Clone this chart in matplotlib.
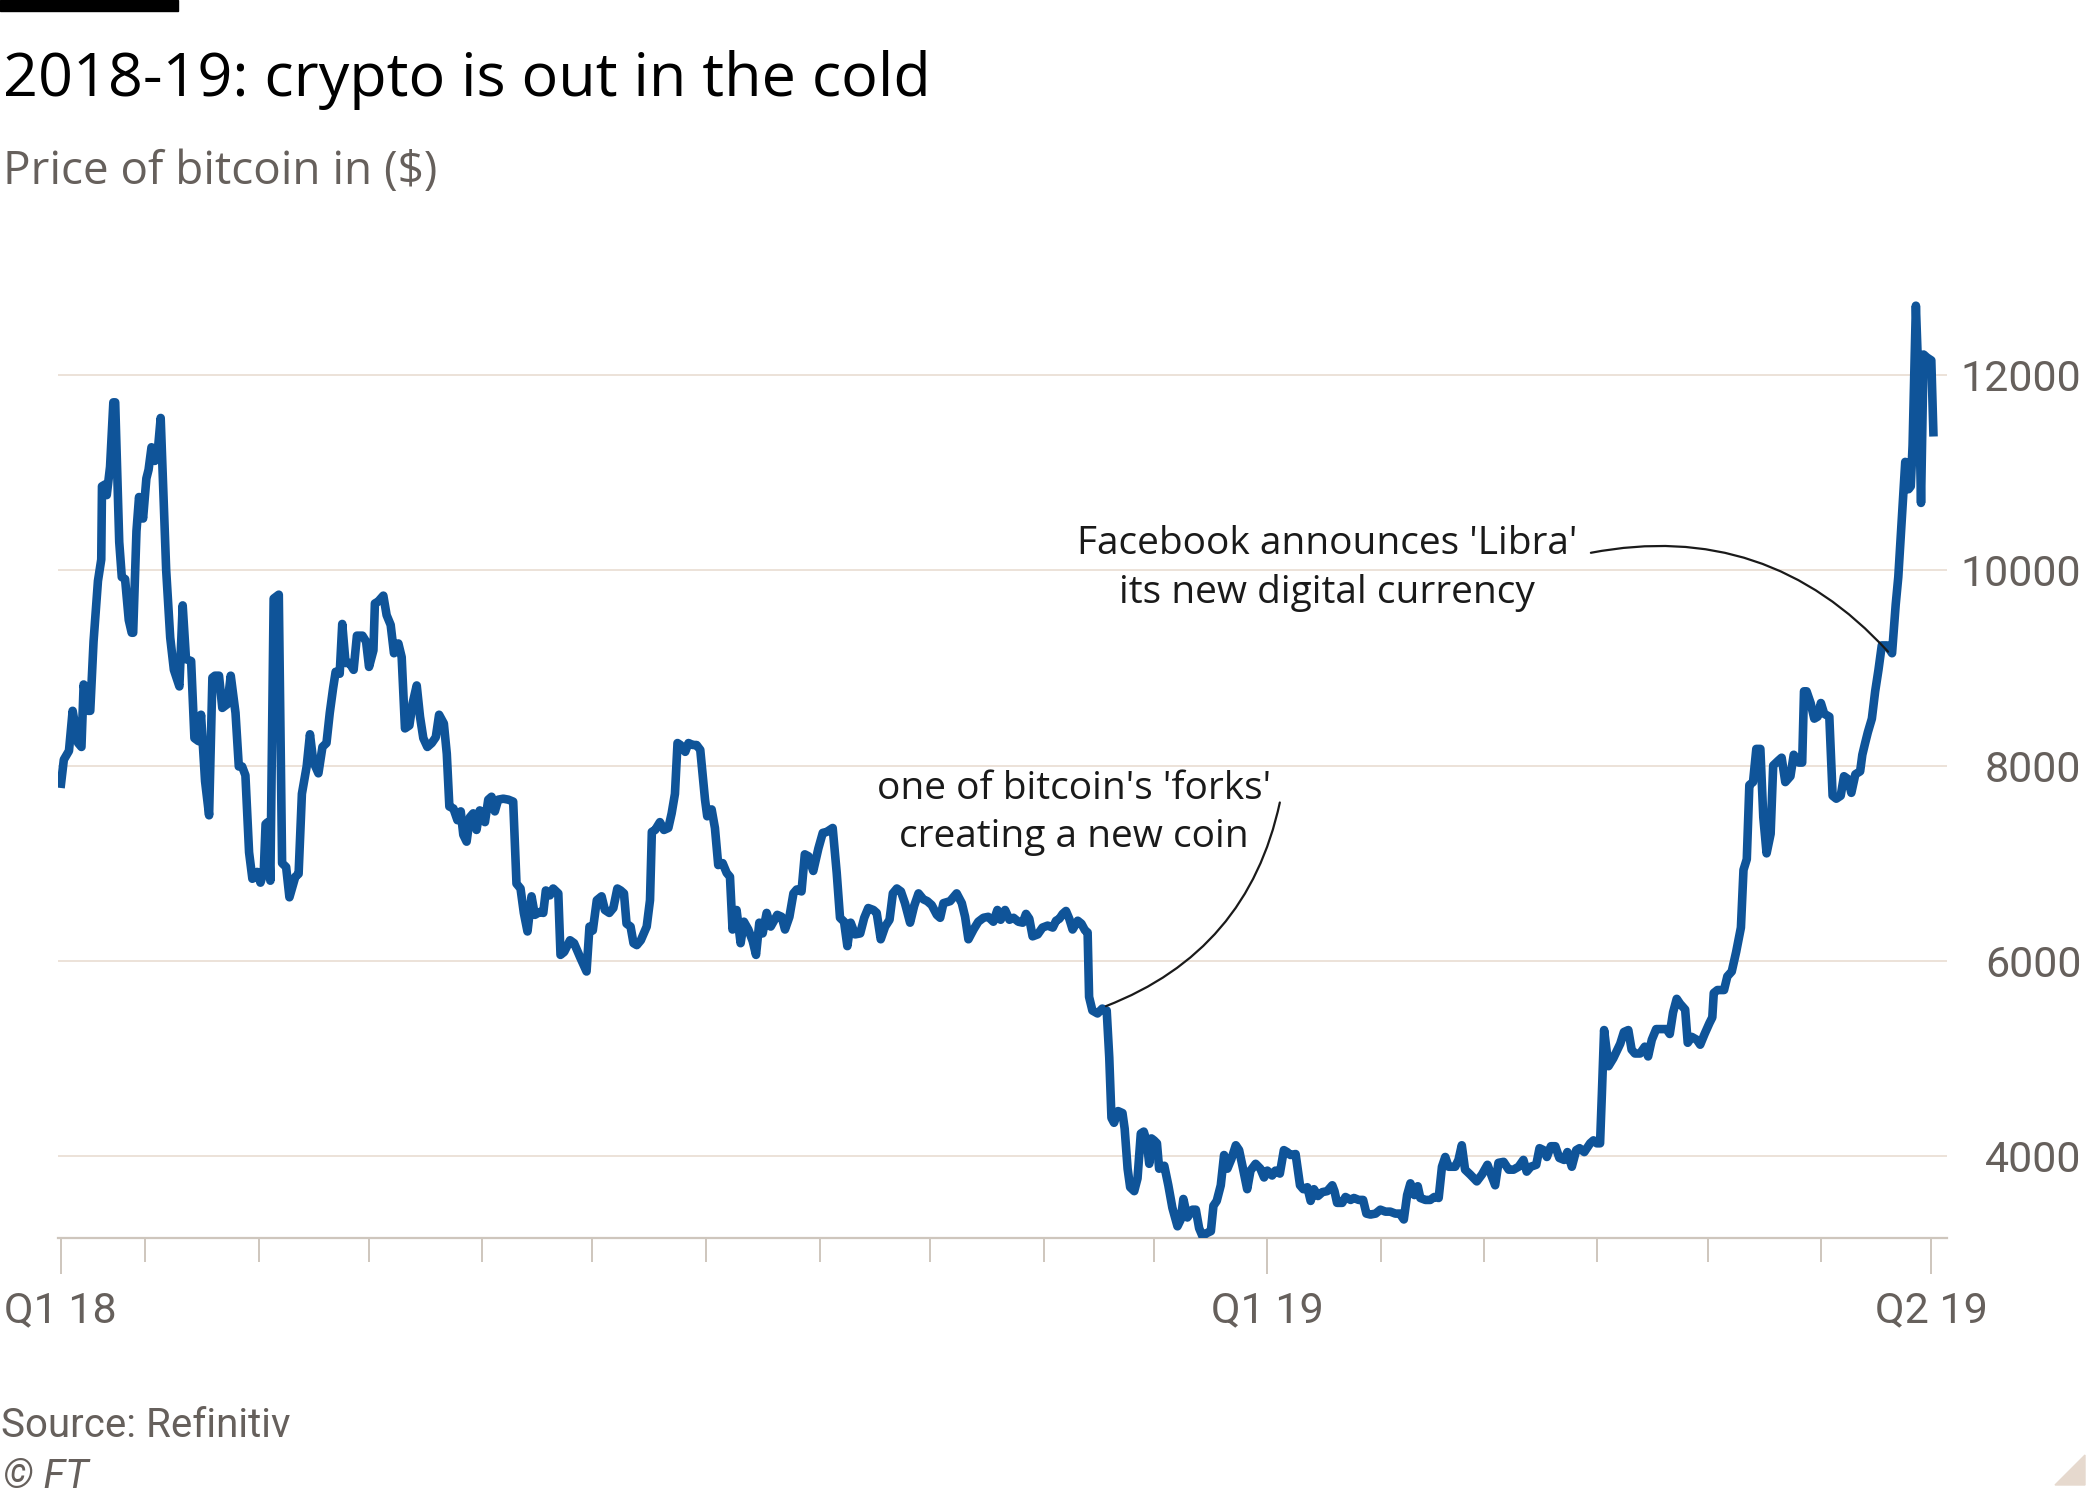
import matplotlib
matplotlib.use("Agg")
import matplotlib.pyplot as plt
import matplotlib.dates as mdates
from matplotlib.patches import Rectangle, Polygon
import pandas as pd

# ---------------- data ----------------
START = "2018-02-06"   # first observation; DAYS are offsets from this date

DAYS = [
    0, 0.9, 2.3, 3.3, 4.8, 5.7, 6.3, 7.5, 8.1, 9.0, 10.2, 11.1, 11.3, 12.2, 12.6, 13.5,
    14.4, 14.9, 16.0, 16.7, 17.6, 18.6, 19.4, 19.8, 20.7, 21.4, 22.5, 23.4, 24.0, 24.8,
    25.7, 26.6, 27.3, 28.8, 29.9, 30.9, 32.4, 33.3, 34.2, 35.6, 36.5, 37.6, 38.3, 39.4,
    40.5, 41.4, 42.1, 43.2, 44.1, 45.5, 46.4, 47.7, 48.6, 49.5, 50.4, 51.4, 52.3, 53.6,
    54.5, 55.4, 55.9, 56.5, 57.2, 58.1, 59.5, 60.4, 61.5, 62.4, 64.0, 64.9, 65.8, 67.1,
    68.0, 68.9, 70.3, 71.4, 72.5, 73.4, 74.3, 75.0, 76.1, 76.8, 77.7, 78.8, 79.9, 80.8,
    82.3, 83.3, 84.1,
    85.3, 85.7, 86.6, 88.0, 88.9, 90.0, 90.9, 92.1, 93.0, 93.9, 95.1, 96.0, 97.1, 98.0,
    98.9, 100.0, 101.2, 102.3, 103.2, 104.5, 105.3, 106.0, 107.1, 108.2, 109.1, 109.8,
    110.7, 111.6, 112.5, 113.4, 114.3, 115.7, 116.6, 117.5, 118.4, 119.3, 120.7, 122.1,
    123.4, 124.3, 125.4, 126.3, 127.3, 128.4, 129.3, 130.7, 131.6, 132.3, 133.4, 134.3,
    135.7, 136.3, 137.3, 138.9, 140.0, 141.6, 143.4, 144.2, 145.1, 146.2, 147.5, 148.4,
    149.6, 150.7, 151.8, 152.7, 153.6, 154.3, 155.4, 156.2, 157.1, 158.2, 159.8, 160.7,
    161.2, 162.1, 163.4, 164.5, 165.7, 166.6, 167.5, 168.2, 169.0, 170.3, 171.2, 172.4,
    173.4, 174.4,
    175.7, 176.3, 177.5, 178.4, 179.3, 180.5, 181.6, 182.5, 183.2, 184.3, 185.4, 186.3,
    187.5, 188.7, 189.6, 190.5, 191.4, 192.5, 193.6, 195.4, 196.6, 197.5, 198.7, 199.8,
    200.7, 202.0, 202.9, 203.9, 205.2, 206.6, 207.8, 208.9, 210.5, 211.6, 212.5, 213.6,
    214.5, 215.4, 216.6, 218.0, 219.1, 220.2, 221.6, 222.5, 223.6, 224.8, 226.0, 226.9,
    228.0, 229.1, 230.2, 231.6, 232.7, 233.9, 235.2, 236.3, 237.5, 238.9, 239.8, 240.7,
    242.5, 244.3, 245.7, 246.6, 247.5, 248.9, 250.2, 251.6, 252.9, 254.3, 255.4, 256.3,
    257.5, 258.7, 259.8, 261.1,
    262.3, 263.2, 264.1, 265.0, 266.4, 267.7, 269.1, 270.5, 271.4, 272.3, 273.2, 274.1,
    275.0, 275.9, 277.3, 278.3, 279.3, 280.0, 280.4, 281.3, 282.7, 284.0, 285.2, 285.9,
    286.5, 287.2, 288.3, 289.5, 290.1, 290.9, 291.6, 292.7, 293.6, 294.5, 295.3, 296.1,
    296.8, 297.4, 298.1, 298.9, 299.5, 300.9, 302.0, 303.1, 304.5, 305.4, 306.1, 307.2,
    308.6, 309.5, 310.4, 311.3, 312.5, 313.6, 314.3, 315.2, 316.3, 317.2, 318.1, 319.2,
    320.4, 321.3, 322.2, 323.5, 324.4, 325.8, 327.1, 328.1, 329.0, 330.3, 331.2, 332.4,
    333.5, 334.4, 335.3, 336.7, 337.9, 338.8, 339.9, 340.8, 341.7, 342.8, 344.0,
    345.3, 346.7, 347.3, 348.0, 349.4, 350.3, 351.7, 352.6, 353.9, 355.1, 356.0, 357.1,
    358.5, 359.8, 361.2, 362.5, 363.9, 365.1, 366.2, 367.1, 368.0, 369.1, 370.0, 370.7,
    372.1, 373.4, 374.5, 375.7, 376.6, 377.5, 378.4, 380.2, 381.1, 382.0, 382.9, 384.3,
    386.1, 387.5, 389.0, 390.2, 391.1, 392.0, 393.4, 394.8, 396.1, 397.5, 398.8, 399.7,
    400.8, 402.3, 403.2, 404.3, 405.2, 406.3, 407.5, 408.6, 409.9, 410.8, 412.0, 413.2,
    414.1, 415.4, 417.0, 417.9, 418.8, 419.7, 420.2, 420.8, 422.0, 423.3, 425.2, 426.2,
    427.4, 428.3, 429.2, 430.6, 431.9, 432.8, 433.8,
    435.0, 436.4, 437.8, 438.7, 439.6, 440.6, 441.5, 442.9, 443.6, 444.7, 446.1, 447.0,
    448.2, 449.5, 450.3, 450.7, 451.7, 453.5, 454.4, 455.6, 456.8, 458.1, 458.8, 459.7,
    460.4, 461.4, 462.3, 463.4, 464.2, 465.1, 466.2, 466.9, 468.3, 469.2, 470.2, 471.6,
    472.5, 473.9, 474.8, 475.3, 476.0, 477.1, 478.1, 479.0, 479.9, 480.8, 482.2, 483.1,
    484.1, 485.3, 486.2, 487.3, 488.2, 489.3, 490.6, 491.2, 491.9, 492.7, 493.8, 494.7,
    495.6, 496.5, 497.9, 499.3, 500.3, 501.0, 502.1, 502.9, 503.8, 504.4, 504.9, 505.8,
    506.6, 507.2, 507.9, 508.8, 510.0, 510.6,
]

PRICE = [
    7770, 8060, 8150, 8560, 8230, 8190, 8830, 8560, 8560, 9270, 9890, 10110, 10860, 10880, 10770, 11060,
    11720, 11720, 10290, 9930, 9910, 9490, 9360, 9360, 10400, 10750, 10530, 10940, 11030, 11260,
    11120, 11260, 11560, 10000, 9310, 8980, 8810, 9640, 9090, 9070, 8280, 8250, 8520, 7840,
    7490, 8900, 8920, 8920, 8590, 8630, 8920, 8540, 7990, 7990, 7900, 7110, 6840, 6910,
    6800, 6910, 7400, 7420, 6820, 9710, 9750, 7000, 6960, 6650, 6860, 6890, 7710, 7990,
    8320, 8040, 7920, 8190, 8230, 8540, 8790, 8960, 8940, 9450, 9050, 9050, 8980, 9330,
    9330, 9270, 9010,
    9180, 9660, 9680, 9740, 9540, 9440, 9150, 9250, 9110, 8380, 8410, 8640, 8820, 8500,
    8280, 8190, 8230, 8290, 8520, 8430, 8120, 7580, 7560, 7440, 7530, 7290,
    7220, 7470, 7510, 7340, 7540, 7420, 7650, 7680, 7530, 7650, 7660, 7650,
    7630, 6790, 6740, 6490, 6300, 6660, 6470, 6500, 6490, 6720, 6670, 6740,
    6690, 6060, 6090, 6210, 6180, 6040, 5890, 6350, 6310, 6620, 6660, 6520,
    6490, 6540, 6740, 6720, 6690, 6380, 6350, 6180, 6160, 6210, 6350, 6620,
    7320, 7340, 7420, 7340, 7360, 7510, 7710, 8230, 8210, 8140, 8230, 8210,
    8210, 8160,
    7650, 7480, 7550, 7360, 6980, 7000, 6900, 6860, 6320, 6520, 6180, 6400,
    6320, 6200, 6060, 6390, 6280, 6490, 6350, 6470, 6450, 6320, 6450, 6690,
    6730, 6710, 7090, 7070, 6920, 7150, 7310, 7320, 7360, 6900, 6440, 6400,
    6150, 6390, 6270, 6280, 6440, 6540, 6520, 6490, 6220, 6350, 6420, 6690,
    6740, 6710, 6590, 6390, 6560, 6690, 6630, 6610, 6570, 6470, 6440, 6590,
    6610, 6690, 6590, 6450, 6220, 6320, 6400, 6440, 6450, 6400, 6520, 6420,
    6520, 6420, 6440, 6400,
    6390, 6480, 6430, 6250, 6270, 6340, 6360, 6340, 6410, 6430, 6480, 6510,
    6430, 6320, 6410, 6380, 6310, 6290, 5630, 5490, 5460, 5510, 5490, 5010,
    4390, 4340, 4460, 4440, 4280, 3870, 3680, 3640, 3770, 4230, 4250, 4150,
    3920, 4180, 4160, 4130, 3870, 3900, 3700, 3470, 3280, 3350, 3560, 3370,
    3450, 3450, 3260, 3180, 3210, 3230, 3490, 3540, 3700, 4010, 3870, 3970,
    4110, 4060, 3900, 3660, 3850, 3920, 3870, 3780, 3850, 3800, 3850, 3820,
    4060, 4040, 4010, 4020, 3700, 3660, 3680, 3540, 3660, 3590, 3630,
    3640, 3700, 3640, 3520, 3520, 3580, 3550, 3570, 3550, 3550, 3410, 3400,
    3410, 3450, 3430, 3430, 3410, 3410, 3350, 3600, 3720, 3600, 3690, 3570,
    3550, 3550, 3580, 3570, 3890, 3990, 3890, 3890, 3960, 4110, 3860, 3810,
    3740, 3810, 3910, 3790, 3700, 3930, 3940, 3860, 3860, 3890, 3960, 3840,
    3890, 3910, 4080, 4060, 3990, 4100, 4100, 3980, 3960, 4040, 3890, 4060,
    4080, 4040, 4130, 4160, 4130, 4130, 4640, 5290, 4920, 5000, 5150, 5270,
    5290, 5090, 5050, 5050, 5120, 5020, 5190,
    5300, 5300, 5300, 5250, 5470, 5610, 5560, 5500, 5160, 5220, 5190, 5140,
    5250, 5360, 5420, 5670, 5700, 5700, 5840, 5890, 6090, 6340, 6930, 7040,
    7800, 7830, 8170, 8170, 7470, 7100, 7300, 8000, 8050, 8080, 7830, 7890,
    8110, 8030, 8030, 8760, 8760, 8640, 8480, 8500, 8640, 8530, 8500, 7690,
    7660, 7690, 7890, 7860, 7720, 7910, 7940, 8110, 8220, 8340, 8480, 8760,
    8980, 9230, 9230, 9150, 9650, 9930, 10610, 11110, 10830, 10860, 11280, 12710,
    11840, 10690, 12210, 12180, 12150, 11370,
]

Y_TICKS = [4000, 6000, 8000, 10000, 12000]
Y_TICK_LABELS = ["4000", "6000", "8000", "10000", "12000"]

X_TICK_DATES = [
    "2018-02-06", "2018-03-01", "2018-04-01", "2018-05-01", "2018-06-01", "2018-07-01",
    "2018-08-01", "2018-09-01", "2018-10-01", "2018-11-01", "2018-12-01", "2019-01-01",
    "2019-02-01", "2019-03-01", "2019-04-01", "2019-05-01", "2019-06-01", "2019-07-01",
]
X_LABELLED = {"2018-02-06": "Q1 18", "2019-01-01": "Q1 19", "2019-07-01": "Q2 19"}

TITLE = "2018-19: crypto is out in the cold"
SUBTITLE = "Price of bitcoin in ($)"
SOURCE = "Source: Refinitiv"
NOTE_FORK = ["one of bitcoin's 'forks'", "creating a new coin"]
NOTE_LIBRA = ["Facebook announces 'Libra'", "its new digital currency"]

# ---------------- style ----------------
BLUE = "#0f5499"
GRID = "#eadfd6"
AXIS = "#cec6bd"
GREY = "#66605c"
INK = "#1a1a1a"
W, H = 2100, 1500

start = pd.Timestamp(START)
dates = start + pd.to_timedelta(DAYS, unit="D")


def d(day):
    return mdates.date2num(start + pd.Timedelta(days=day))


fig = plt.figure(figsize=(W / 100, H / 100), dpi=100, facecolor="white")
ax = fig.add_axes([57.6 / W, 1 - 1238 / H, (1946.7 - 57.6) / W, (1238 - 277) / H])
ax.set_facecolor("white")

ax.plot(dates, PRICE, color=BLUE, lw=6.2, solid_joinstyle="round",
        solid_capstyle="butt", zorder=3)

ax.set_xlim(d(-0.8), d(514.2))
ax.set_ylim(3160, 13004)

for s in ["top", "left", "right"]:
    ax.spines[s].set_visible(False)
ax.spines["bottom"].set_color(AXIS)
ax.spines["bottom"].set_linewidth(1.6)

# y axis on the right, right-aligned labels
ax.yaxis.tick_right()
ax.set_yticks(Y_TICKS)
ax.set_yticklabels(Y_TICK_LABELS)
ax.tick_params(axis="y", length=0, pad=97, labelsize=31, labelcolor=GREY)
for t in ax.get_yticklabels():
    t.set_horizontalalignment("right")
    t.set_fontfamily(["Roboto", "DejaVu Sans"])
ax.grid(axis="y", color=GRID, lw=1.3, zorder=0)
ax.grid(axis="x", visible=False)

# x ticks: labelled (long) and monthly (short)
major = [mdates.date2num(pd.Timestamp(s)) for s in X_TICK_DATES if s in X_LABELLED]
minor = [mdates.date2num(pd.Timestamp(s)) for s in X_TICK_DATES if s not in X_LABELLED]
ax.set_xticks(major)
ax.set_xticklabels([X_LABELLED[s] for s in X_TICK_DATES if s in X_LABELLED])
ax.set_xticks(minor, minor=True)
ax.tick_params(axis="x", which="major", length=26, width=1.4, color=AXIS,
               labelsize=31, labelcolor=GREY, pad=12)
ax.tick_params(axis="x", which="minor", length=17, width=1.4, color=AXIS)
for t in ax.get_xticklabels():
    t.set_fontfamily(["Roboto", "DejaVu Sans"])

# annotations
ann_font = dict(fontsize=28, color=INK, family=["Open Sans", "DejaVu Sans"],
                ha="center", va="baseline", zorder=5)
ax.text(d(276.3), 7652, NOTE_FORK[0], **ann_font)
ax.text(d(276.3), 7161, NOTE_FORK[1], **ann_font)
ax.text(d(345.3), 10169, NOTE_LIBRA[0], **ann_font)
ax.text(d(345.3), 9668, NOTE_LIBRA[1], **ann_font)

ax.annotate("", xy=(d(285.0), 5535), xytext=(d(332.4), 7621),
            arrowprops=dict(arrowstyle="-", color=INK, lw=1.6, shrinkA=0, shrinkB=0,
                            connectionstyle="arc3,rad=-0.27"), zorder=5)
ax.annotate("", xy=(d(498.2), 9166), xytext=(d(417.2), 10179),
            arrowprops=dict(arrowstyle="-", color=INK, lw=1.6, shrinkA=0, shrinkB=0,
                            connectionstyle="arc3,rad=-0.28"), zorder=5)

# header / footer
fig.patches.append(Rectangle((0, 1 - 11 / H), 178 / W, 11 / H, transform=fig.transFigure,
                             color="black", zorder=10))
fig.text(3 / W, 1 - 96 / H, TITLE, fontsize=44, color="black",
         family=["Open Sans", "DejaVu Sans"], va="baseline", ha="left")
fig.text(3 / W, 1 - 184 / H, SUBTITLE, fontsize=33, color=GREY,
         family=["Open Sans", "DejaVu Sans"], va="baseline", ha="left")
fig.text(1 / W, 1 - 1437 / H, SOURCE, fontsize=29, color=GREY,
         family=["Roboto", "DejaVu Sans"], va="baseline", ha="left")
fig.text(3 / W, 1 - 1488 / H, "© FT", fontsize=29, color=GREY, style="italic",
         family=["Roboto", "DejaVu Sans"], va="baseline", ha="left")
tri = [(2055 / W, 1 - 1485 / H), (2085 / W, 1 - 1455 / H), (2085 / W, 1 - 1485 / H)]
fig.patches.append(Polygon(tri, closed=True, transform=fig.transFigure,
                           color="#e6d9ce", zorder=10))

fig.savefig("out.png", dpi=100, facecolor="white")
